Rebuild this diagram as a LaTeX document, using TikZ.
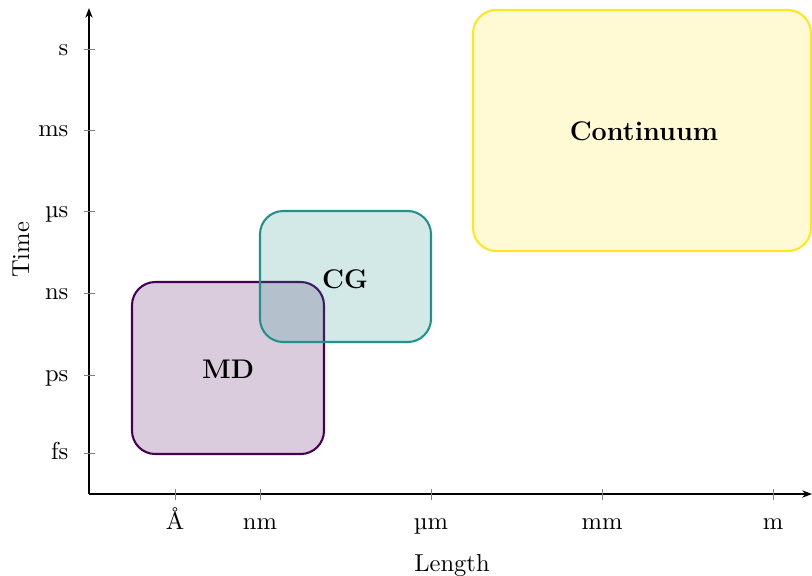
\documentclass[tikz,border=0pt]{standalone}
\usetikzlibrary{arrows.meta}
\definecolor{vpurple}{HTML}{440154}
\definecolor{vteal}{HTML}{21918C}
\definecolor{vyellow}{HTML}{FDE725}
\begin{document}
\begin{tikzpicture}[x=0.408pt,y=-0.408pt,
  regbox/.style={line width=0.85pt, rounded corners=9.5pt, fill opacity=0.2, draw opacity=1},
  boxlabel/.style={font=\fontsize{11}{13}\selectfont\bfseries},
  axisline/.style={line width=0.5pt, -{Stealth[length=4pt,width=3pt]}},
  tickmark/.style={gray, line width=0.4pt},
  ylab/.style={anchor=base east},
  xlab/.style={anchor=base}]
\useasboundingbox (0,0) rectangle (812,575);
% boxes
\draw[regbox, draw=vpurple, fill=vpurple] (132,282) rectangle (324,454);
\draw[regbox, draw=vteal, fill=vteal] (260,211) rectangle (431,342);
\draw[regbox, draw=vyellow, fill=vyellow] (473,10) rectangle (811,251);
\node[boxlabel] (md) at (228,369) {MD};
\node[boxlabel] (cg) at (345,279) {CG};
\node[boxlabel] (cont) at (644,131) {Continuum};
% axes
\coordinate (o) at (89,494);
\coordinate (ytop) at (89,8);
\coordinate (xend) at (812,494);
\draw[axisline] (o) -- (ytop);
\draw[axisline] (o) -- (xend);
% y ticks
\foreach \yy/\lab/\nm in {49/s/ys,130/ms/yms,211/µs/yus,293/ns/yns,375/ps/yps,453/fs/yfs}{
  \draw[tickmark] (84,\yy) -- (95,\yy);
  \node[ylab] (\nm) at (77,\yy+6.5) {\lab};
}
% x ticks
\foreach \xx/\lab/\nm in {175/Å/xa,260/nm/xnm,431/µm/xum,602/mm/xmm,773/m/xm}{
  \draw[tickmark] (\xx,489) -- (\xx,500);
  \node[xlab] (\nm) at (\xx,529) {\lab};
}
\node[anchor=base] (xlabel) at (452,571) {Length};
\node[rotate=90] (ylabel) at (21,250) {Time};
\end{tikzpicture}
\end{document}
